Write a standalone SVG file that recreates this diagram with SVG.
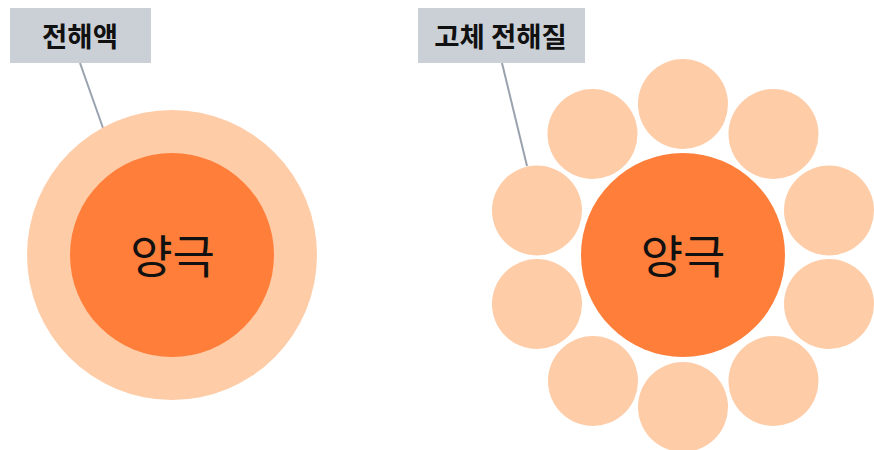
<svg xmlns="http://www.w3.org/2000/svg" width="874" height="450" viewBox="0 0 874 450">
<style>
.shell{fill:#fecca7}
.core{fill:#fe7e3a}
.box{fill:#cbd0d7}
.lead{stroke:#9aa2ae;stroke-width:2;fill:none}
.lbl{font-family:"Noto Sans CJK KR","Noto Sans",sans-serif;font-weight:700;font-size:27.5px;fill:#111;text-anchor:middle}
.core-t{font-family:"Noto Sans CJK KR","Noto Sans",sans-serif;font-size:46px;fill:#111;text-anchor:middle}
</style>
<rect width="874" height="450" fill="#fff"/>
<g id="connectors">
<line class="lead" x1="80" y1="63" x2="103" y2="128"/>
<line class="lead" x1="502" y1="63" x2="527" y2="166"/>
</g>
<g id="liquid-electrolyte">
<circle class="shell" cx="172" cy="255" r="145"/>
</g>
<g id="cathode-left">
<circle class="core" cx="172" cy="255" r="102"/>
<text class="core-t" x="172.5" y="273">양극</text>
</g>
<g id="solid-electrolyte">
<circle class="shell" cx="683" cy="104" r="45"/>
<circle class="shell" cx="592.5" cy="134" r="45"/>
<circle class="shell" cx="773.5" cy="134" r="45"/>
<circle class="shell" cx="537" cy="210.5" r="45"/>
<circle class="shell" cx="829" cy="210.5" r="45"/>
<circle class="shell" cx="537" cy="304" r="45"/>
<circle class="shell" cx="829" cy="304" r="45"/>
<circle class="shell" cx="593" cy="381" r="45"/>
<circle class="shell" cx="773.5" cy="381" r="45"/>
<circle class="shell" cx="683" cy="407" r="45"/>
</g>
<g id="cathode-right">
<circle class="core" cx="683" cy="255" r="102"/>
<text class="core-t" x="683" y="273">양극</text>
</g>
<g id="label-liquid">
<rect class="box" x="10" y="8" width="141" height="55"/>
<text class="lbl" x="80" y="46.5">전해액</text>
</g>
<g id="label-solid">
<rect class="box" x="418" y="8" width="167" height="55"/>
<text class="lbl" x="500.5" y="46.5">고체 전해질</text>
</g>
</svg>
